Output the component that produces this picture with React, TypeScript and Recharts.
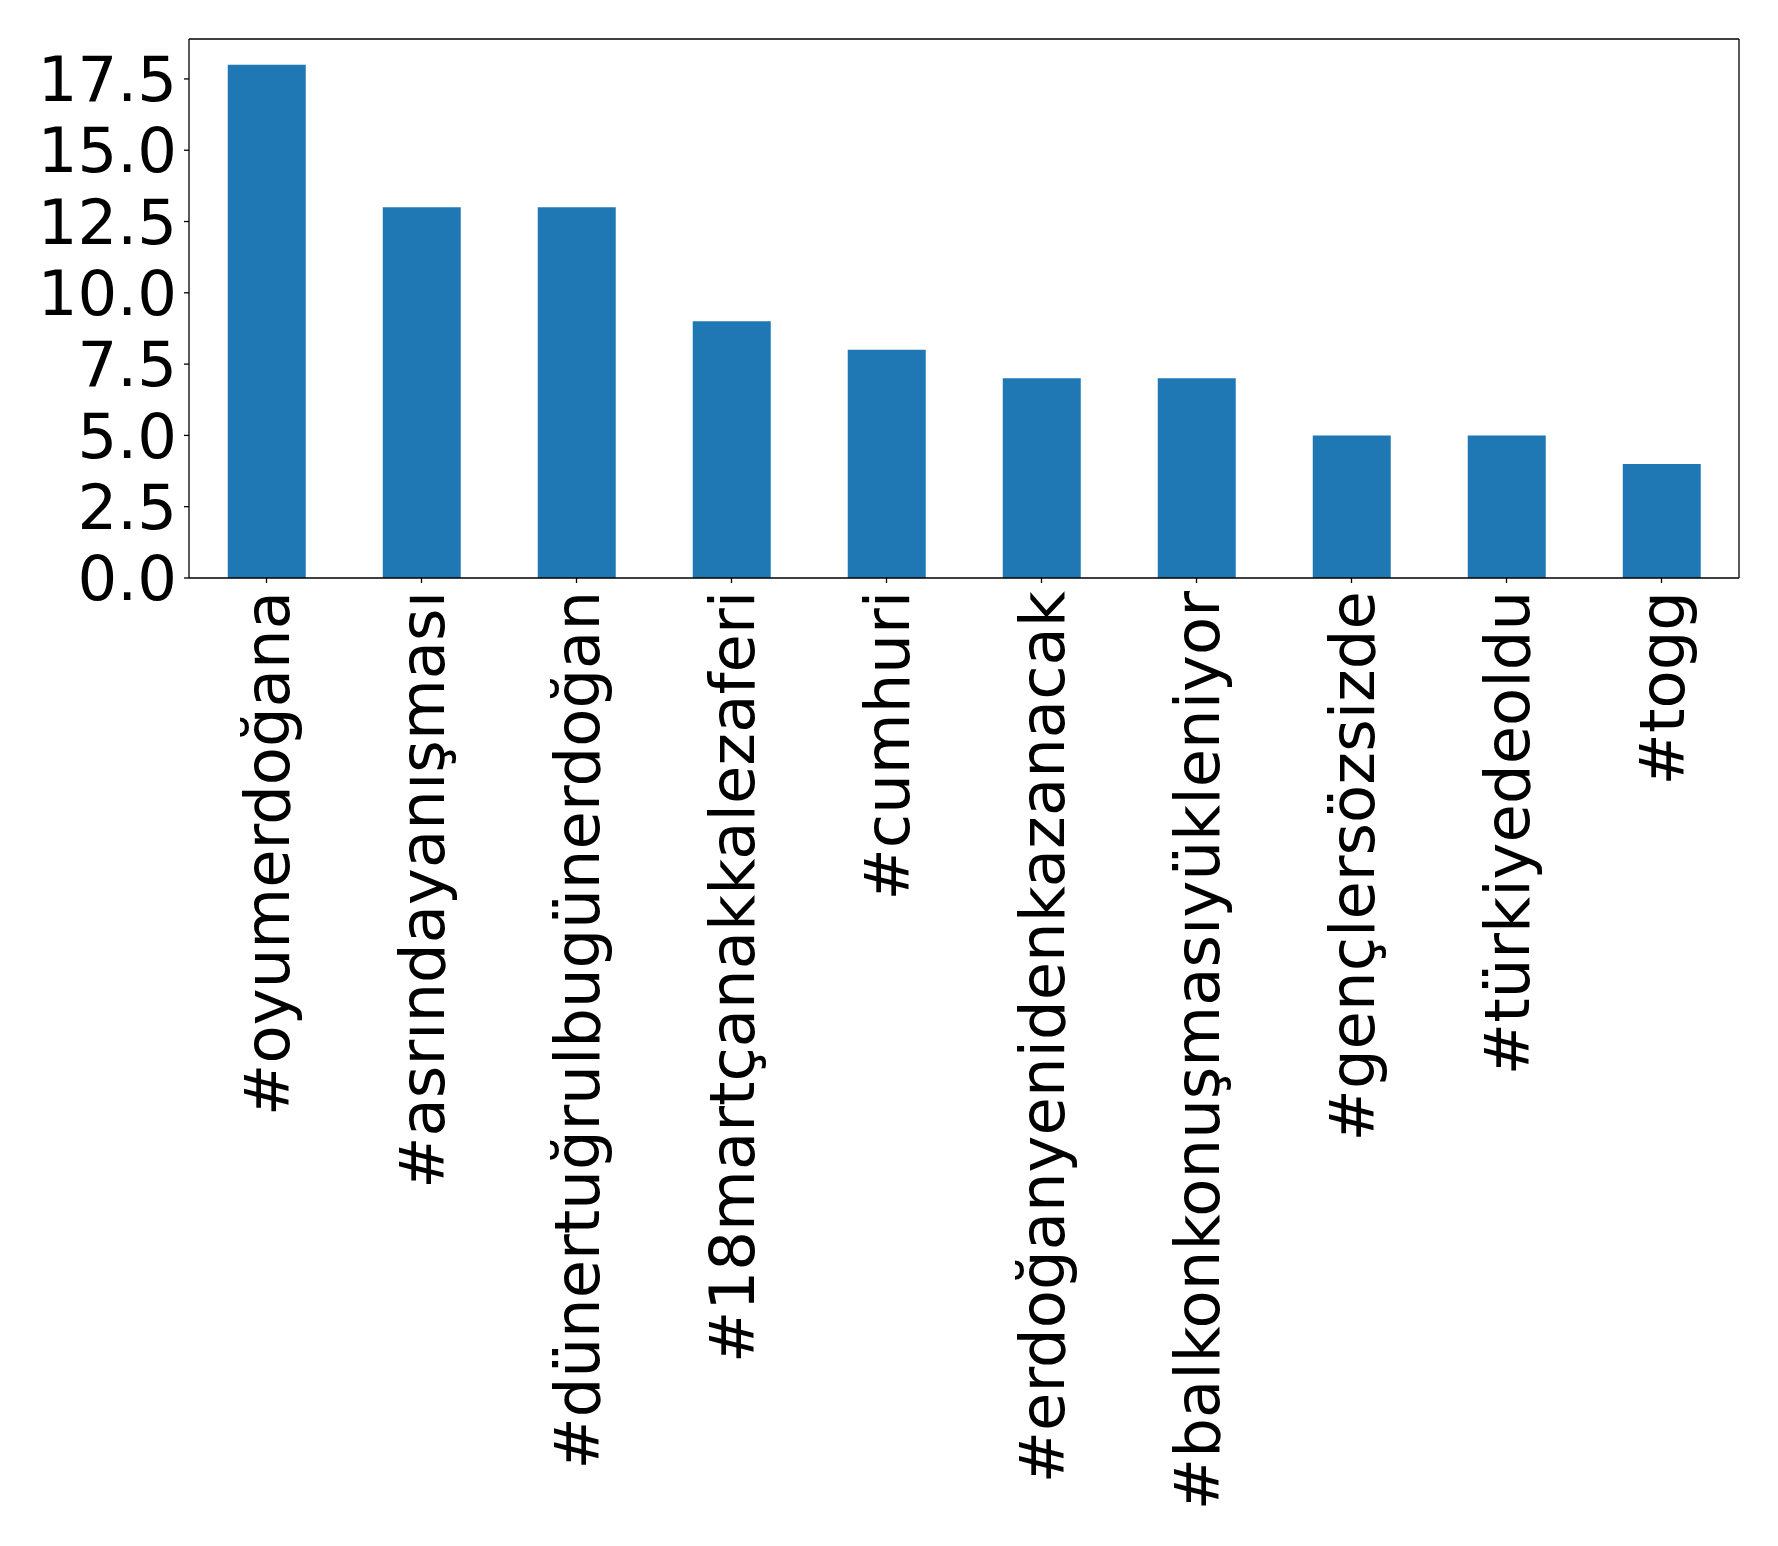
import React from 'react';
import { BarChart, Bar, XAxis, YAxis, CartesianGrid } from 'recharts';

const HASHTAGS = [
    '#oyumerdoğana',
    '#asrındayanışması',
    '#dünertuğrulbugünerdoğan',
    '#18martçanakkalezaferi',
    '#cumhuri',
    '#erdoğanyenidenkazanacak',
    '#balkonkonuşmasıyükleniyor',
    '#gençlersözsizde',
    '#türkiyedeoldu',
    '#togg',
];
const COUNTS = [18, 13, 13, 9, 8, 7, 7, 5, 5, 4];
const Y_TICKS = [0, 2.5, 5, 7.5, 10, 12.5, 15, 17.5];
const Y_MAX = 18.9;

const FONT = 'DejaVu Sans';
const FONT_SIZE = 62.5;
const LINE = { stroke: '#000', strokeWidth: 1.3 };

const data = HASHTAGS.map((tag, i) => ({ tag, count: COUNTS[i] }));

// rotated category label, reads bottom-to-top
const RotatedTick = (props: any) => {
    const { x, y, payload } = props;
    return (
        <g transform={`translate(${x},${y + 6})`}>
            <text
                transform="rotate(-90)"
                textAnchor="end"
                dy="0.36em"
                fill="#000"
                fontFamily={FONT}
                fontSize={FONT_SIZE}
            >
                {payload.value}
            </text>
        </g>
    );
};

export default function App() {
    return (
        <div style={{ position: 'absolute', left: 0, top: 0, background: '#fff' }}>
            <style>{`body { margin: 0; }`}</style>
            <BarChart
                width={1778}
                height={1546}
                data={data}
                margin={{ top: 39, right: 39, bottom: 0, left: 0 }}
                barCategoryGap="25%"
            >
                {/* box around the plot area, like matplotlib's four spines */}
                <CartesianGrid
                    stroke="#000"
                    strokeWidth={1.3}
                    horizontalCoordinatesGenerator={({ offset }: any) => [offset.top]}
                    verticalCoordinatesGenerator={({ offset }: any) => [offset.left + offset.width]}
                />
                <XAxis
                    dataKey="tag"
                    interval={0}
                    height={968}
                    tick={<RotatedTick />}
                    tickSize={5}
                    tickLine={LINE}
                    axisLine={LINE}
                />
                <YAxis
                    domain={[0, Y_MAX]}
                    ticks={Y_TICKS}
                    interval={0}
                    width={189}
                    tickSize={5}
                    tickMargin={7}
                    tickFormatter={(v: number) => v.toFixed(1)}
                    tick={{ fill: '#000', fontFamily: FONT, fontSize: FONT_SIZE }}
                    tickLine={LINE}
                    axisLine={LINE}
                    allowDataOverflow
                />
                <Bar dataKey="count" fill="#1f77b4" isAnimationActive={false} />
            </BarChart>
        </div>
    );
}
